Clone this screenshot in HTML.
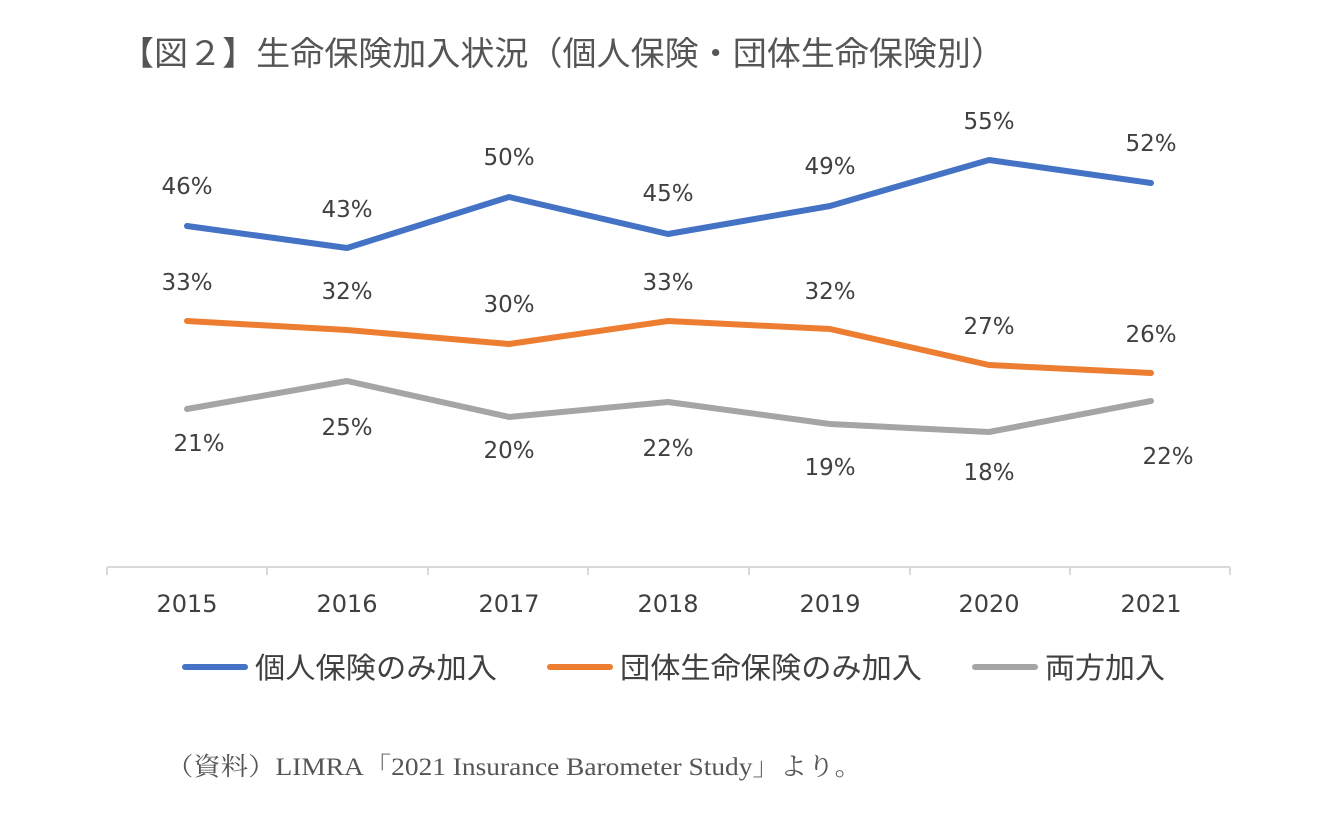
<!DOCTYPE html>
<html><head><meta charset="utf-8"><style>
html,body{margin:0;padding:0;background:#fff;}
svg{display:block;}
</style></head><body>
<svg width="1331" height="821" viewBox="0 0 1331 821" xmlns="http://www.w3.org/2000/svg">
<text x="120" y="65" font-family="Liberation Sans, Noto Sans CJK JP, sans-serif" font-size="33" fill="#555" textLength="885" lengthAdjust="spacingAndGlyphs">【図２】生命保険加入状況（個人保険・団体生命保険別）</text>
<g fill="none" stroke-width="6" stroke-linejoin="round" stroke-linecap="round">
<polyline stroke="#4472C4" points="187,226 347,248 509,197 668,234 830,206 989,160 1151,183"/>
<polyline stroke="#ED7D31" points="187,321 347,330 509,344 668,321 830,329 989,365 1151,373"/>
<polyline stroke="#A5A5A5" points="187,409 347,381 509,417 668,402 830,424 989,432 1151,401"/>
</g>
<g stroke="#d9d9d9" stroke-width="2">
<line x1="107" y1="567" x2="1230" y2="567"/>
<line x1="107" y1="567" x2="107" y2="575"/><line x1="267" y1="567" x2="267" y2="575"/><line x1="428" y1="567" x2="428" y2="575"/><line x1="588" y1="567" x2="588" y2="575"/><line x1="749" y1="567" x2="749" y2="575"/><line x1="910" y1="567" x2="910" y2="575"/><line x1="1070" y1="567" x2="1070" y2="575"/><line x1="1230" y1="567" x2="1230" y2="575"/>
</g>
<g font-family="DejaVu Sans, sans-serif" font-size="23" fill="#404040" text-anchor="middle">
<text x="187" y="194">46%</text><text x="347" y="217">43%</text><text x="509" y="165">50%</text><text x="668" y="201">45%</text><text x="830" y="174">49%</text><text x="989" y="129">55%</text><text x="1151" y="151">52%</text>
<text x="187" y="290">33%</text><text x="347" y="299">32%</text><text x="509" y="312">30%</text><text x="668" y="290">33%</text><text x="830" y="299">32%</text><text x="989" y="334">27%</text><text x="1151" y="342">26%</text>
<text x="199" y="451">21%</text><text x="347" y="435">25%</text><text x="509" y="458">20%</text><text x="668" y="456">22%</text><text x="830" y="475">19%</text><text x="989" y="480">18%</text><text x="1168" y="464">22%</text>
</g>
<g font-family="DejaVu Sans, sans-serif" font-size="24" fill="#404040" text-anchor="middle">
<text x="187" y="612">2015</text><text x="347" y="612">2016</text><text x="509" y="612">2017</text><text x="668" y="612">2018</text><text x="830" y="612">2019</text><text x="989" y="612">2020</text><text x="1151" y="612">2021</text>
</g>
<g stroke-width="6" stroke-linecap="round">
<line x1="185" y1="667" x2="245" y2="667" stroke="#4472C4"/>
<line x1="550" y1="667" x2="610" y2="667" stroke="#ED7D31"/>
<line x1="975" y1="667" x2="1035" y2="667" stroke="#A5A5A5"/>
</g>
<g font-family="Liberation Sans, Noto Sans CJK JP, sans-serif" font-size="29" fill="#404040">
<text x="255" y="678" textLength="242" lengthAdjust="spacingAndGlyphs">個人保険のみ加入</text>
<text x="620" y="678" textLength="302" lengthAdjust="spacingAndGlyphs">団体生命保険のみ加入</text>
<text x="1045" y="678" textLength="120" lengthAdjust="spacingAndGlyphs">両方加入</text>
</g>
<text x="166" y="775" font-family="Liberation Serif, Noto Serif CJK SC, serif" font-size="25" fill="#555" textLength="696" lengthAdjust="spacingAndGlyphs">（資料）LIMRA「2021 Insurance Barometer Study」より。</text>
</svg>
</body></html>
